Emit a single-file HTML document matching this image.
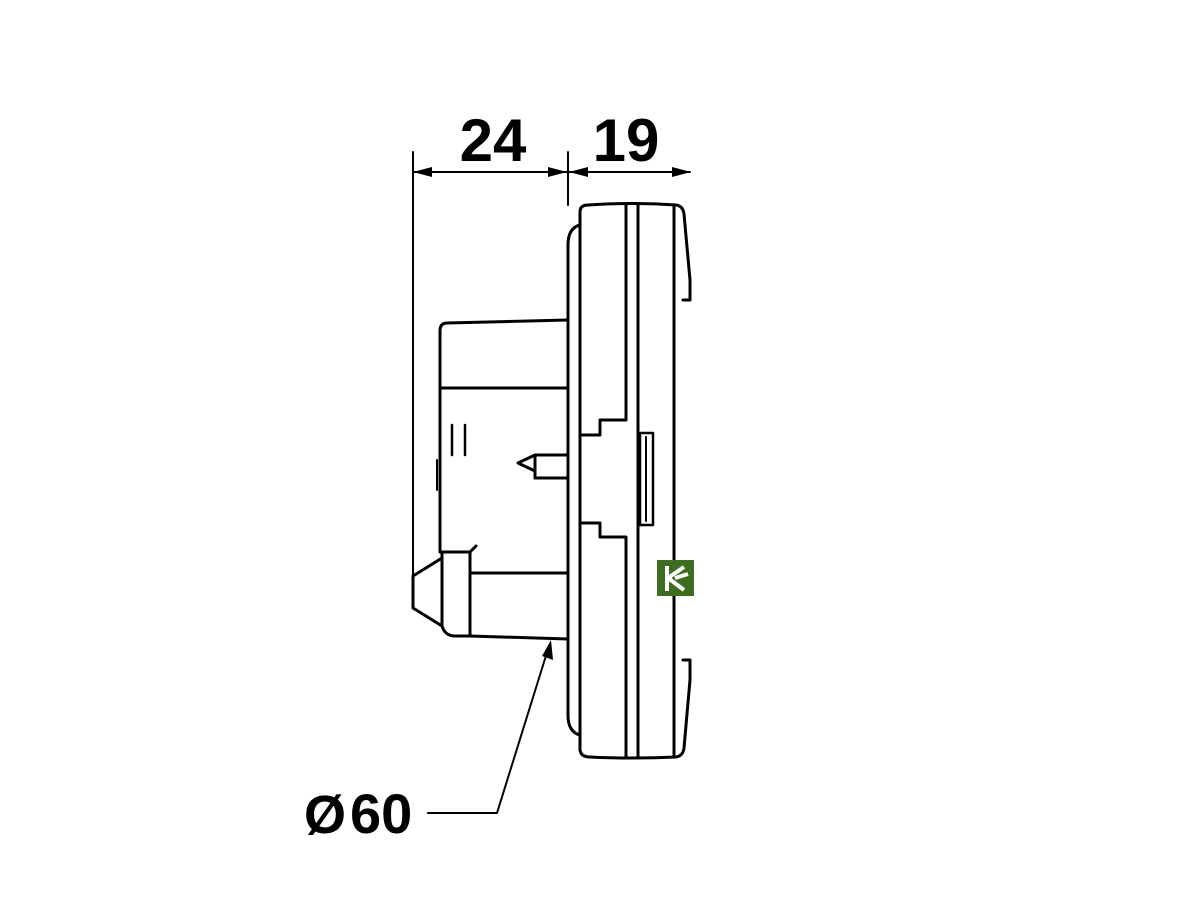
<!DOCTYPE html>
<html><head><meta charset="utf-8"><style>
html,body{margin:0;padding:0;background:#fff;width:1200px;height:900px;overflow:hidden}
svg{display:block}
text{font-family:"Liberation Sans",sans-serif;font-weight:bold;fill:#000}
</style></head><body>
<svg width="1200" height="900" viewBox="0 0 1200 900" xmlns="http://www.w3.org/2000/svg">
<g fill="none" stroke="#000" stroke-width="3" stroke-linejoin="round" stroke-linecap="round">
<line x1="413" y1="152" x2="413" y2="578" stroke-width="2"/>
<line x1="568" y1="152" x2="568" y2="205" stroke-width="2"/>
<line x1="413" y1="172" x2="690" y2="172" stroke-width="2"/>
<path d="M580 225 Q568 228 568 245 L568 715 Q568 732 580 735"/>
<path d="M580 750 L580 212 Q580 205 588 205 Q630 202 676 205 Q683 206 684 214 L690 280 L690 300 L683 300"/>
<path d="M580 750 Q581 757 590 757 Q630 759 676 757 Q683 756 684 748 L690 680 L690 660 L683 660"/>
<line x1="674" y1="205" x2="674" y2="757"/>
<line x1="638" y1="205" x2="638" y2="757"/>
<path d="M626 205 L626 420 L600 420 L600 435 L580 435"/>
<path d="M580 523 L600 523 L600 537 L626 537 L626 757"/>
<rect x="640" y="433" width="13" height="92" stroke-width="2.5"/>
<line x1="646" y1="437" x2="646" y2="521" stroke-width="2"/>
<path d="M568 320 L447 323 Q440 323 440 331 L440 552"/>
<line x1="440" y1="388" x2="568" y2="388"/>
<line x1="452" y1="425" x2="452" y2="455" stroke-width="2.5"/>
<line x1="465" y1="425" x2="465" y2="455" stroke-width="2.5"/>
<path d="M568 455 L535 455 L518 463 L535 471 L535 478 L568 478"/>
<line x1="535" y1="455" x2="535" y2="478"/>
<line x1="437" y1="460" x2="437" y2="490" stroke-width="2"/>
<path d="M442 552 L470 552 L476 546"/>
<path d="M442 558 L413 576 L413 608 L442 626"/>
<line x1="442" y1="552" x2="442" y2="626"/>
<line x1="470" y1="552" x2="470" y2="634"/>
<line x1="470" y1="573" x2="568" y2="573"/>
<path d="M442 626 Q445 636 455 636 L470 636 L568 639"/>
<polyline points="549,646 497,813 428,813" stroke-width="2"/>
</g>
<g fill="#000">
<polygon points="413,172 432,167 432,177"/>
<polygon points="567,172 548,167 548,177"/>
<polygon points="569,172 588,167 588,177"/>
<polygon points="691,172 672,167 672,177"/>
<polygon points="551,640 553,660 542,656"/>
</g>
<text x="493" y="161" font-size="60" text-anchor="middle">24</text>
<text x="626" y="161" font-size="60" text-anchor="middle">19</text>
<text x="304" y="833" font-size="54">Ø</text>
<text x="350" y="833" font-size="56">60</text>
<rect x="657" y="560" width="37" height="36" fill="#3f6d1f"/>
<path d="M667 566 L667 591 M668 578 L684 567 M668 578 L684 590 M675 578 L688 574" stroke="#fff" stroke-width="4" fill="none"/>
</svg>
</body></html>
